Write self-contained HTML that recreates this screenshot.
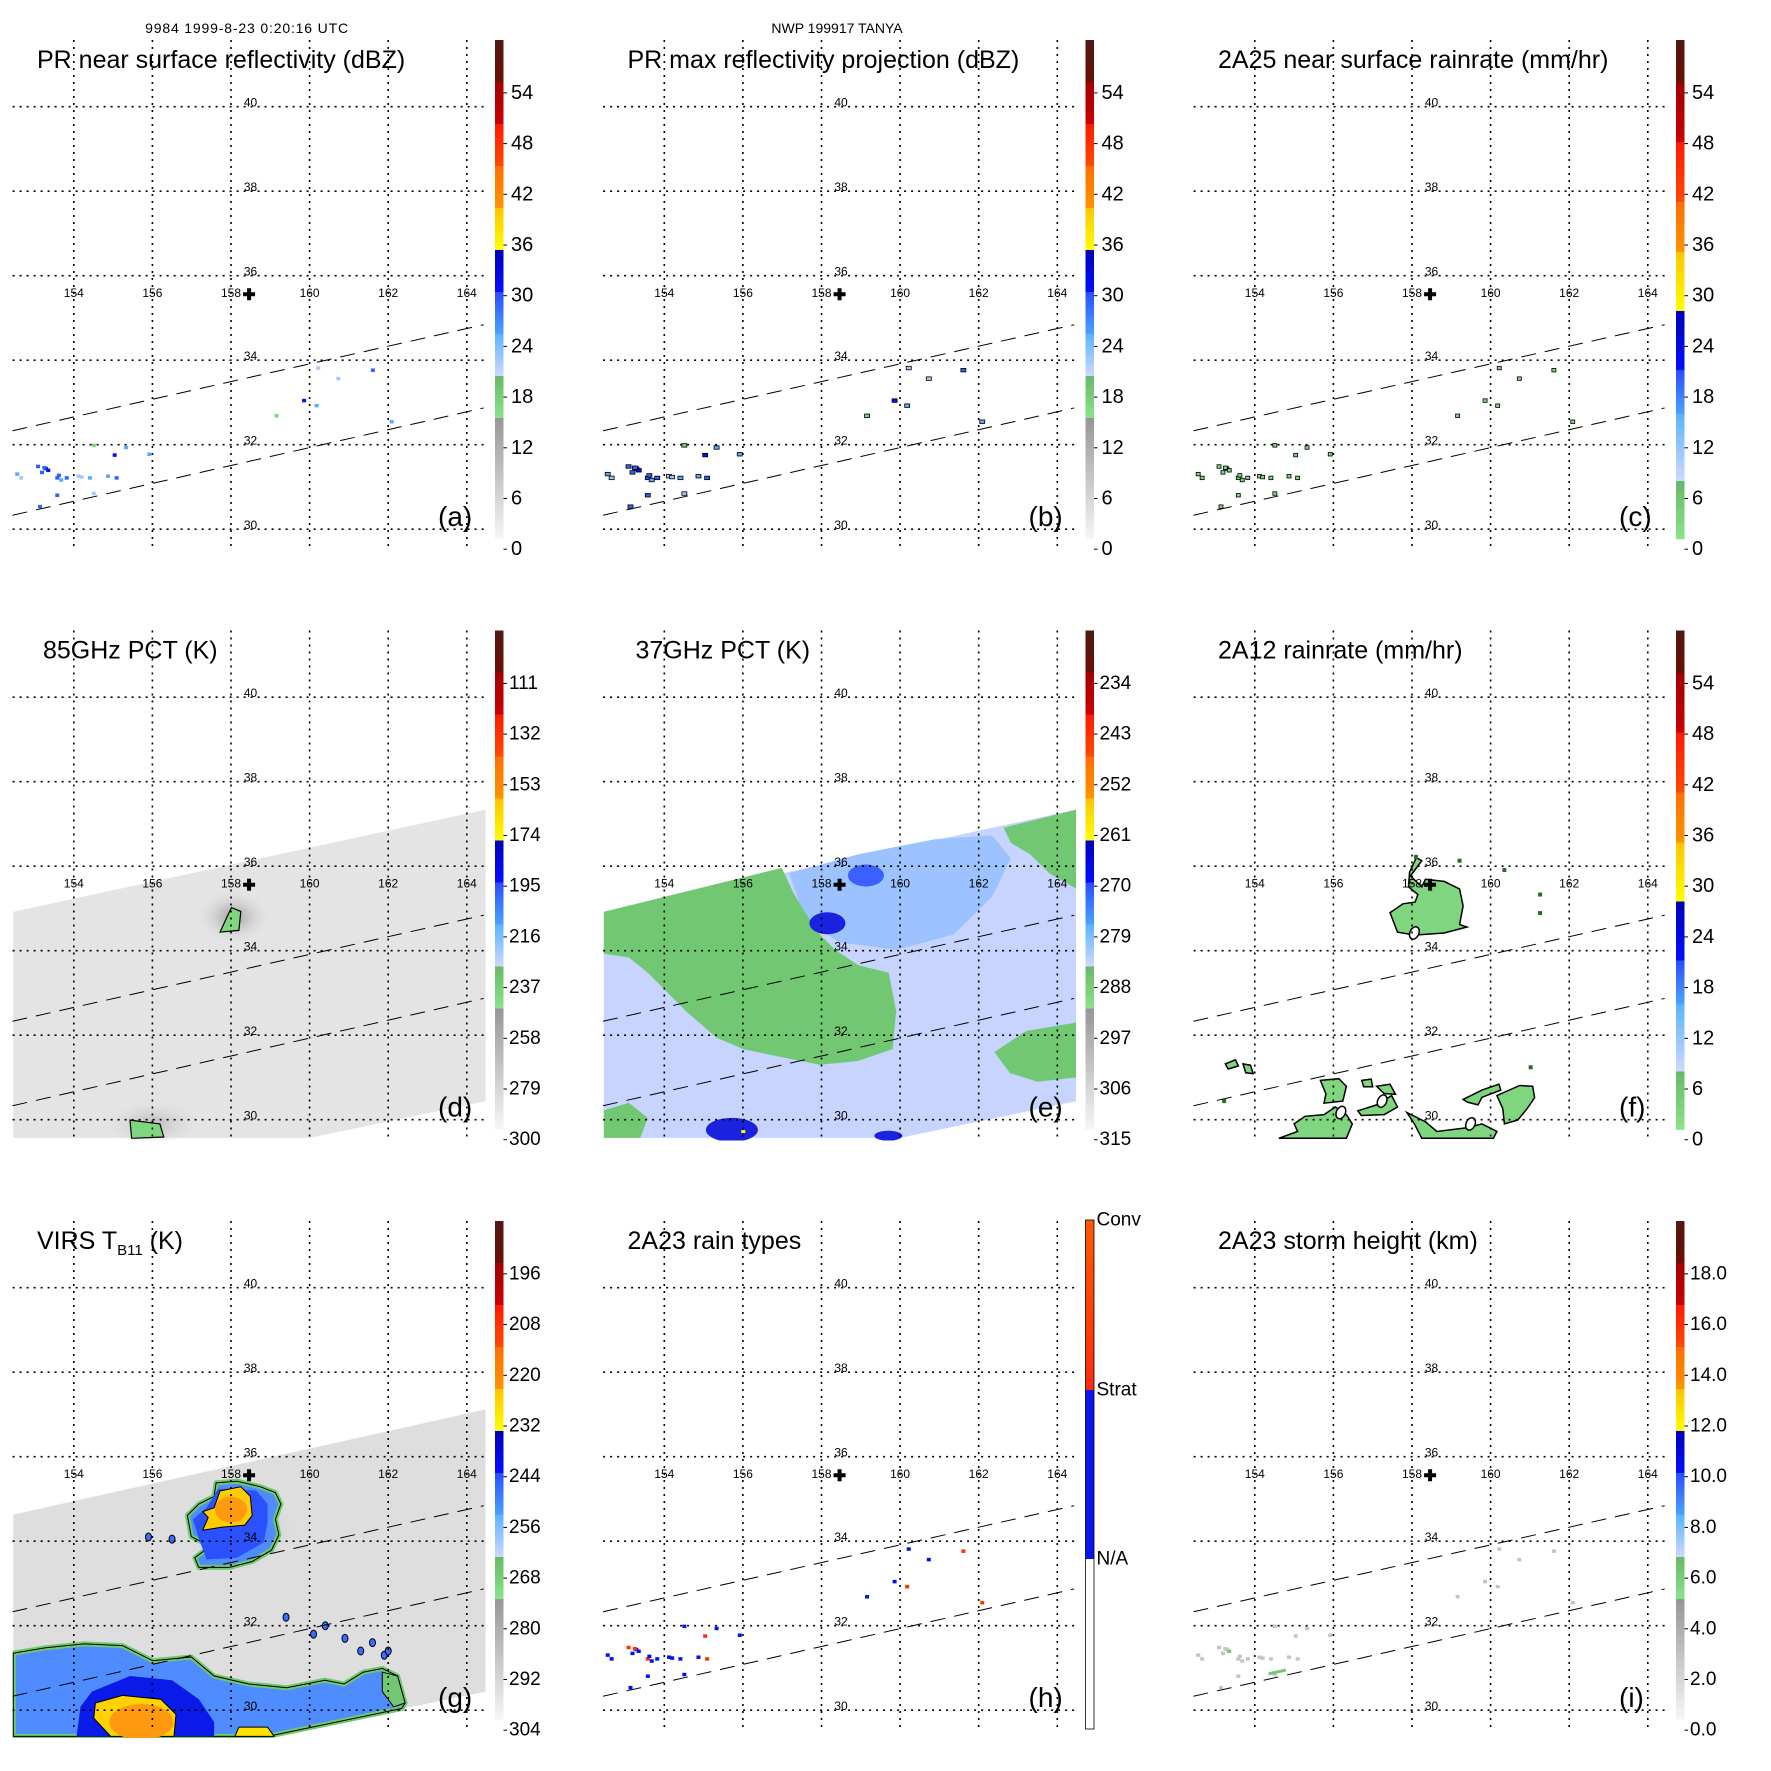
<!DOCTYPE html>
<html><head><meta charset="utf-8">
<style>
html,body{margin:0;padding:0;background:#fff}
svg{display:block}
text{font-family:"Liberation Sans",Arial,sans-serif;fill:#000}
</style></head>
<body>
<svg id="fig" width="1771" height="1771" viewBox="0 0 1771 1771">
<text x="246.6" y="33" font-size="14" text-anchor="middle" textLength="203">9984 1999-8-23 0:20:16 UTC</text>
<text x="837" y="33" font-size="14" text-anchor="middle">NWP 199917 TANYA</text>
</svg>
<script>
const NS='http://www.w3.org/2000/svg';
const lonTicks=[154,156,158,160,162,164];
const latTicks=[30,32,34,36,38,40];
const stormCenter=[158.46,35.56];
const swathUpper=[[152.44,32.33],[164.43,34.84]];
const swathLower=[[152.44,30.33],[164.43,32.87]];
const panelIds=['a','b','c','d','e','f','g','h','i'];
const titles=['PR near surface reflectivity (dBZ)','PR max reflectivity projection (dBZ)','2A25 near surface rainrate (mm/hr)','85GHz PCT (K)','37GHz PCT (K)','2A12 rainrate (mm/hr)','VIRS T','2A23 rain types','2A23 storm height (km)'];
const titleX=[37,37,37,43,45,37,37,37,37];
const ticksA=['54','48','42','36','30','24','18','12','6','0'];
const ticksD=['111','132','153','174','195','216','237','258','279','300'];
const ticksE=['234','243','252','261','270','279','288','297','306','315'];
const ticksG=['196','208','220','232','244','256','268','280','292','304'];
const ticksI=['18.0','16.0','14.0','12.0','10.0','8.0','6.0','4.0','2.0','0.0'];
const ticksH=['Conv','Strat','N/A'];
// precipitation specks (lon, lat) and values
const speckLon=[152.56,152.66,153.09,153.19,153.29,153.58,153.68,153.82,154.12,154.41,154.51,153.14,155.04,155.33,155.92,155.09,153.58,159.86,160.18,160.22,160.73,161.61,162.09,159.16,154.51,154.87,153.35,153.62,153.25,154.2];
const speckLat=[31.31,31.22,31.49,31.35,31.44,31.22,31.17,31.22,31.26,31.22,30.85,30.54,31.76,31.94,31.78,31.22,30.81,33.05,32.93,33.82,33.57,33.77,32.55,32.69,31.99,31.26,31.4,31.28,31.46,31.24];
const speckDbz=[24,20,30,28,32,30,26,31,22,24,20,30,35,24,26,30,31,32,24,22,22,30,26,18,18,24,33,29,30,22];
const speckType=[1,1,2,1,1,2,1,1,1,1,1,1,2,1,1,2,1,1,2,1,1,2,2,1,1,1,1,1,2,1];
// storm outlines (lon/lat)
const swathDE=[[152.46,34.92],[164.48,37.34],[164.48,30.44],[160.0,29.57],[152.46,29.57]];
const swathG=[[152.46,34.63],[164.48,37.12],[164.48,30.44],[158.93,29.38],[152.46,29.38]];
const eGreen=[[152.46,34.92],[156.99,35.96],[157.28,35.38],[157.57,34.92],[157.96,34.38],[158.35,34.02],[158.93,33.66],[159.71,33.48],[159.9,32.57],[159.81,31.67],[158.93,31.39],[157.96,31.3],[156.99,31.48],[156.01,31.67],[155.33,31.94],[154.55,32.57],[154.07,33.02],[153.58,33.48],[153.1,33.84],[152.46,33.93]];
const eMidBlue=[[157.18,35.83],[158.93,36.28],[160.88,36.64],[162.34,36.73],[162.82,36.19],[162.34,35.28],[161.36,34.38],[159.9,34.02],[158.45,34.2],[157.57,34.74]];
const eGreenTR=[[162.63,36.91],[164.48,37.34],[164.48,35.47],[163.8,35.83],[163.31,36.28],[162.82,36.55]];
const eGreenBL=[[152.46,30.22],[153.1,30.4],[153.58,30.04],[153.39,29.57],[152.46,29.57]];
const eGreenBR=[[162.4,31.6],[163.2,32.1],[164.48,32.3],[164.48,31.0],[163.5,30.9],[162.8,31.1]];
const eDark=[[159.13,35.78],[158.15,34.65],[155.72,29.76],[159.7,29.62]];
const dBlob1=[[157.72,34.44],[158.01,35.02],[158.25,34.93],[158.2,34.48]];
const dBlob2=[[155.43,29.99],[156.19,29.9],[156.29,29.59],[155.47,29.56]];
const fCentral=[[158.11,36.2],[158.25,36.13],[157.96,35.77],[158.25,35.51],[158.34,35.69],[158.82,35.64],[159.21,35.46],[159.3,35.06],[159.21,34.62],[159.4,34.56],[158.82,34.42],[158.06,34.37],[157.63,34.44],[157.44,34.9],[157.77,35.11],[158.08,35.15],[158.15,35.33],[157.91,35.51],[157.94,35.86]];
const fPatches=[
 [[155.0,29.9],[155.28,30.08],[155.76,30.12],[156.05,30.3],[156.33,30.12],[156.48,29.9],[156.33,29.56],[154.61,29.56],[155.09,29.72]],
 [[155.67,30.93],[156.14,30.97],[156.33,30.79],[156.24,30.44],[155.76,30.39],[155.81,30.61]],
 [[156.62,30.21],[157.1,30.35],[157.48,30.57],[157.63,30.3],[157.29,30.12],[156.71,30.1]],
 [[157.87,30.17],[158.34,29.95],[158.63,29.72],[159.4,29.81],[159.78,29.9],[160.16,29.72],[160.07,29.56],[158.25,29.56],[158.06,29.9]],
 [[159.3,30.48],[159.78,30.7],[160.21,30.84],[160.26,30.7],[159.78,30.53],[159.68,30.35],[159.4,30.42]],
 [[160.16,30.57],[160.74,30.81],[161.07,30.79],[161.12,30.52],[160.93,30.26],[160.69,29.99],[160.35,29.9],[160.31,30.26]],
 [[156.72,30.93],[156.96,30.96],[157.0,30.78],[156.77,30.78]],
 [[157.1,30.79],[157.44,30.84],[157.58,30.6],[157.29,30.62]],
 [[153.25,31.32],[153.51,31.42],[153.58,31.27],[153.32,31.2]],
 [[153.7,31.32],[153.89,31.29],[153.96,31.09],[153.77,31.11]]];
const fSmallLon=[153.22,160.35,161.26,161.26,161.02,159.21,158.1];
const fSmallLat=[30.44,35.91,35.33,34.89,31.24,36.13,36.22];
const fZeroLon=[158.06,156.19,157.24,159.49];
const fZeroLat=[34.42,30.17,30.44,29.9];
const gStormOuter=[[157.62,35.38],[158.15,35.42],[158.74,35.29],[159.13,35.15],[159.27,34.88],[159.13,34.52],[159.22,34.15],[159.03,33.79],[158.54,33.52],[157.96,33.38],[157.18,33.38],[157.08,33.61],[157.47,33.88],[156.99,34.11],[156.89,34.61],[157.18,34.88],[157.57,35.06]];
const gStormBlue=[[157.67,35.24],[158.64,35.2],[158.93,34.88],[158.93,34.43],[158.83,33.97],[158.15,33.61],[157.38,33.57],[157.18,34.06],[157.03,34.52],[157.38,34.79]];
const gStormYellow=[[157.72,35.19],[158.25,35.29],[158.49,35.06],[158.54,34.61],[158.35,34.38],[157.76,34.33],[157.28,34.26],[157.42,34.56],[157.28,34.7],[157.57,34.79]];
const gBandOuter=[[152.46,31.35],[153.29,31.48],[154.26,31.57],[155.24,31.53],[156.01,31.17],[156.99,31.26],[157.57,30.81],[158.45,30.62],[159.42,30.53],[160.39,30.71],[160.88,30.62],[161.36,30.9],[161.85,30.99],[162.24,30.81],[162.43,30.17],[162.34,30.04],[158.93,29.38],[152.46,29.38]];
const gBandDark=[[154.46,30.44],[155.43,30.81],[156.5,30.71],[157.18,30.26],[157.57,29.72],[157.57,29.38],[154.07,29.38],[154.17,30.08]];
const gBandYellow=[[154.55,30.17],[155.24,30.35],[156.21,30.26],[156.6,29.9],[156.55,29.38],[154.94,29.38],[154.51,29.81]];
const gYellow2=[[158.2,29.6],[158.93,29.6],[159.1,29.38],[158.1,29.38]];
const gGreenR=[[161.85,30.9],[162.24,30.81],[162.43,30.17],[162.14,30.08],[161.85,30.44]];
const gCellsLon=[160.4,160.9,161.3,161.6,161.9,159.4,160.1,162.0,155.9,156.5];
const gCellsLat=[32.0,31.7,31.4,31.6,31.3,32.2,31.8,31.4,34.1,34.05];

const X=lon=>73.8+(lon-154)*39.3;
const Y=lat=>106.7+(40-lat)*42.25;
const svg=document.getElementById('fig');
function mk(tag,attrs,parent){const e=document.createElementNS(NS,tag);for(const k in attrs)e.setAttribute(k,attrs[k]);(parent||svg).appendChild(e);return e;}
const pts=arr=>arr.map(p=>X(p[0]).toFixed(1)+','+Y(p[1]).toFixed(1)).join(' ');

const defs=mk('defs',{});
const bandsA=[[40,82,'#4f1a12','#6b0f05'],[82,124,'#a30000','#cc0000'],[124,166,'#ff1a00','#ff4a00'],[166,208,'#ff6e00','#ff9400'],[208,250,'#ffc400','#ffff00'],[250,292,'#0000b8','#0010ff'],[292,334,'#2a4cff','#4aa4ff'],[334,376,'#5ab4ff','#d0d8ff'],[376,418,'#68b868','#8ae48a'],[418,539,'#969696','#f7f7f7']];
const bandsC=[[40,83,'#4f1a12','#6b0f05'],[83,142,'#a30000','#cc0000'],[142,202,'#ff1a00','#ff4a00'],[202,252,'#ff6e00','#ff9400'],[252,311,'#ffc400','#ffff00'],[311,370,'#0000b8','#0010ff'],[370,414,'#2a4cff','#4aa4ff'],[414,481,'#5ab4ff','#d0d8ff'],[481,539,'#68b868','#8ae48a']];
[bandsA,bandsC].forEach((bs,bi)=>bs.forEach((b,i)=>{
  const g=mk('linearGradient',{id:'bg'+bi+'_'+i,x1:0,y1:0,x2:0,y2:1},defs);
  mk('stop',{offset:0,'stop-color':b[2]},g);mk('stop',{offset:1,'stop-color':b[3]},g);
}));
const rg=mk('radialGradient',{id:'dstorm'},defs);
mk('stop',{offset:0,'stop-color':'#9a9a9a'},rg);mk('stop',{offset:1,'stop-color':'#e3e3e3','stop-opacity':0},rg);
const rg2=mk('radialGradient',{id:'gstorm'},defs);
mk('stop',{offset:0,'stop-color':'#888'},rg2);mk('stop',{offset:1,'stop-color':'#dedede','stop-opacity':0},rg2);
const og=mk('linearGradient',{id:'hconv',x1:0,y1:0,x2:0,y2:1},defs);
mk('stop',{offset:0,'stop-color':'#ff5a00'},og);mk('stop',{offset:1,'stop-color':'#ff2a10'},og);

function colorDbz(v){ if(v>=36)return '#ffe000'; if(v>=32)return '#0010f0'; if(v>=28)return '#3060ff'; if(v>=24)return '#5aaaff'; if(v>=20)return '#a8c8ff'; return '#78d478'; }

panelIds.forEach((id,k)=>{
  const ox=(k%3)*590.5, oy=Math.floor(k/3)*590.5;
  const P=mk('g',{transform:`translate(${ox},${oy})`});
  
  
  const cp=mk('clipPath',{id:'clip'+id},defs);
  mk('rect',{x:12.6,y:40,width:473,height:(id==='g'?517:510)},cp);
  const D=mk('g',{'clip-path':`url(#clip${id})`},P);
  
  

  if(id==='a'||id==='b'||id==='c'||id==='h'||id==='i'){
    speckLon.forEach((lon,j)=>{
      let fill=colorDbz(speckDbz[j]), stroke='none';
      if(id==='b'){stroke='#000';}
      if(id==='c'){fill='#7fd67f';stroke='#000';}
      if(id==='h'){fill=speckType[j]===2?'#ff3300':'#0010ee';}
      if(id==='i'){fill=j===26?'#70c870':'#c4c4c4';}
      const w=id==='b'?5:4;
      const r=mk('rect',{x:X(lon)-w/2,y:Y(speckLat[j])-1.5,width:w,height:3.5,fill:fill,stroke:stroke,'stroke-width':0.8},D);
      
      
    });
    if(id==='i'){const l=mk('line',{x1:X(154.35),y1:Y(30.86),x2:X(154.79),y2:Y(30.95),stroke:'#70c870','stroke-width':3},D);
      
      }
  }
  if(id==='d'||id==='e'||id==='g'){
    const sw=mk('polygon',{points:pts(id==='g'?swathG:swathDE),fill:id==='e'?'#c6d4ff':(id==='g'?'#dedede':'#e4e4e4')},D);
    
    
  }
  if(id==='d'){
    const s=mk('ellipse',{cx:X(158.06),cy:Y(34.8),rx:38,ry:28,fill:'url(#dstorm)'},D);
    
    
    const s2=mk('ellipse',{cx:X(156),cy:Y(29.9),rx:50,ry:25,fill:'url(#dstorm)',opacity:0.6},D);
    
    
    [dBlob1,dBlob2].forEach(b=>{const p=mk('polygon',{points:pts(b),fill:'#7fd67f',stroke:'#000','stroke-width':1.2},D);
      
      });
  }
  if(id==='e'){
    const m=mk('polygon',{points:pts(eMidBlue),fill:'#9cc2ff'},D);
    
    
    [eGreen,eGreenTR,eGreenBL,eGreenBR].forEach(b=>{const p=mk('polygon',{points:pts(b),fill:'#72c872'},D);
      
      });
    eDark.forEach((c,j)=>{const e=mk('ellipse',{cx:X(c[0]),cy:Y(c[1]),rx:j===2?26:(j===3?14:18),ry:j===2?12:(j===3?5:11),fill:j===0?'#3c60ff':'#1a22e0'},D);
      
      });
    const y=mk('rect',{x:X(156.01)-2,y:Y(29.72)-1.5,width:4,height:3,fill:'#ffff00'},D);
    
    
  }
  if(id==='f'){
    [fCentral].concat(fPatches).forEach(b=>{const p=mk('polygon',{points:pts(b),fill:'#7fd67f',stroke:'#000','stroke-width':1.5},D);
      
      });
    fSmallLon.forEach((lon,j)=>{const r=mk('rect',{x:X(lon)-2,y:Y(fSmallLat[j])-2,width:4,height:4,fill:'#2a6a2a'},D);
      
      });
    fZeroLon.forEach((lon,j)=>{const e=mk('ellipse',{cx:X(lon),cy:Y(fZeroLat[j]),rx:4.5,ry:6.5,fill:'#fff',stroke:'#000','stroke-width':1.5,transform:`rotate(25 ${X(lon)} ${Y(fZeroLat[j])})`},D);
      
      });
  }
  if(id==='g'){
    const s=mk('ellipse',{cx:X(158.2),cy:Y(34.3),rx:60,ry:45,fill:'url(#gstorm)',opacity:0.7},D);
    
    
    const layers=[[gBandOuter,'#4f8cff','#70c870',5],[gStormOuter,'#4f8cff','#70c870',5],[gBandDark,'#0a1ae8','none',0],[gStormBlue,'#2a50ff','none',0],[gBandYellow,'#ffd200','#000',1],[gStormYellow,'#ffcc00','#000',1],[gYellow2,'#ffe000','#000',1],[gGreenR,'#72c872','#000',1]];
    layers.forEach(L=>{
      const p=mk('polygon',{points:pts(L[0]),fill:L[1],stroke:L[2],'stroke-width':L[3],'stroke-linejoin':'round'},D);
      
      
      if(L[2]==='#70c870'){const q=mk('polygon',{points:pts(L[0]),fill:'none',stroke:'#000','stroke-width':1},D);
        
        }
    });
    [[155.72,29.72,32,18],[158.0,34.75,16,13]].forEach(c=>{const e=mk('ellipse',{cx:X(c[0]),cy:Y(c[1]),rx:c[2],ry:c[3],fill:'#ff9a10'},D);
      
      });
    gCellsLon.forEach((lon,j)=>{const e=mk('ellipse',{cx:X(lon),cy:Y(gCellsLat[j]),rx:3,ry:4,fill:'#3a6cff',stroke:'#000','stroke-width':1},D);
      
      });
  }

  // grid
  lonTicks.forEach(lon=>{const l=mk('line',{x1:X(lon),y1:40,x2:X(lon),y2:548.5,stroke:'#000','stroke-width':1.6,'stroke-dasharray':'2 5'},P);
    
    
    const t=mk('text',{x:X(lon),y:297,'font-size':12,'text-anchor':'middle'},P);t.textContent=lon;
    
    });
  latTicks.forEach(lat=>{const l=mk('line',{x1:12.6,y1:Y(lat),x2:485.5,y2:Y(lat),stroke:'#000','stroke-width':1.6,'stroke-dasharray':'2 5'},P);
    
    
    const t=mk('text',{x:250.5,y:Y(lat),'font-size':12,'text-anchor':'middle'},P);t.textContent=lat;
    
    });
  [swathUpper,swathLower].forEach(s=>{const l=mk('line',{x1:X(s[0][0]),y1:Y(s[0][1]),x2:X(s[1][0]),y2:Y(s[1][1]),stroke:'#000','stroke-width':1,'stroke-dasharray':'15 9'},P);
    
    });
  const cx=X(stormCenter[0]),cy=Y(stormCenter[1]);
  const cr=mk('path',{d:`M${cx-6},${cy}H${cx+6}M${cx},${cy-6}V${cy+6}`,stroke:'#000','stroke-width':4},P);
  
  

  // title
  const tt=mk('text',{x:titleX[k],y:68,'font-size':25},P);
  tt.textContent=titles[k];
  if(id==='g'){const sb=mk('tspan',{'font-size':15,dy:6},tt);sb.textContent='B11';const r=mk('tspan',{dy:-6},tt);r.textContent=' (K)';}
  
  
  const lt=mk('text',{x:438,y:526,'font-size':28},P);lt.textContent='('+id+')';
  
  

  // colorbar
  const CB=mk('g',{},P);
  
  
  if(id==='h'){
    [[39,209,'url(#hconv)'],[209,378,'#0a14ee'],[378,548,'#ffffff']].forEach(b=>{const r=mk('rect',{x:495,y:b[0],width:8.5,height:b[1]-b[0],fill:b[2]},CB);
      
      });
    const o=mk('rect',{x:495,y:39,width:8.5,height:509,fill:'none',stroke:'#000','stroke-width':0.8},CB);
    
    
    [39,209,378].forEach((y,j)=>{const t=mk('text',{x:506,y:y,'font-size':19,'dominant-baseline':'central'},CB);t.textContent=ticksH[j];
      
      });
  } else {
    const useC=(id==='c'||id==='f');
    const bs=useC?bandsC:bandsA;
    bs.forEach((b,i)=>{const r=mk('rect',{x:495,y:b[0],width:8.5,height:b[1]-b[0]+0.3,fill:`url(#bg${useC?1:0}_${i})`},CB);
      
      });
    const tl={a:ticksA,b:ticksA,c:ticksA,d:ticksD,e:ticksE,f:ticksA,g:ticksG,i:ticksI}[id];
    tl.forEach((s,j)=>{const y=92.9+j*50.7;
      const tk=mk('line',{x1:503.5,y1:y,x2:507,y2:y,stroke:'#000','stroke-width':1},CB);
      
      
      const t=mk('text',{x:(s.length>=3?509:511),y:y,'font-size':(s.length>=3?19:20),'dominant-baseline':'central'},CB);t.textContent=s;
      
      });
  }
});
</script>
</body></html>
